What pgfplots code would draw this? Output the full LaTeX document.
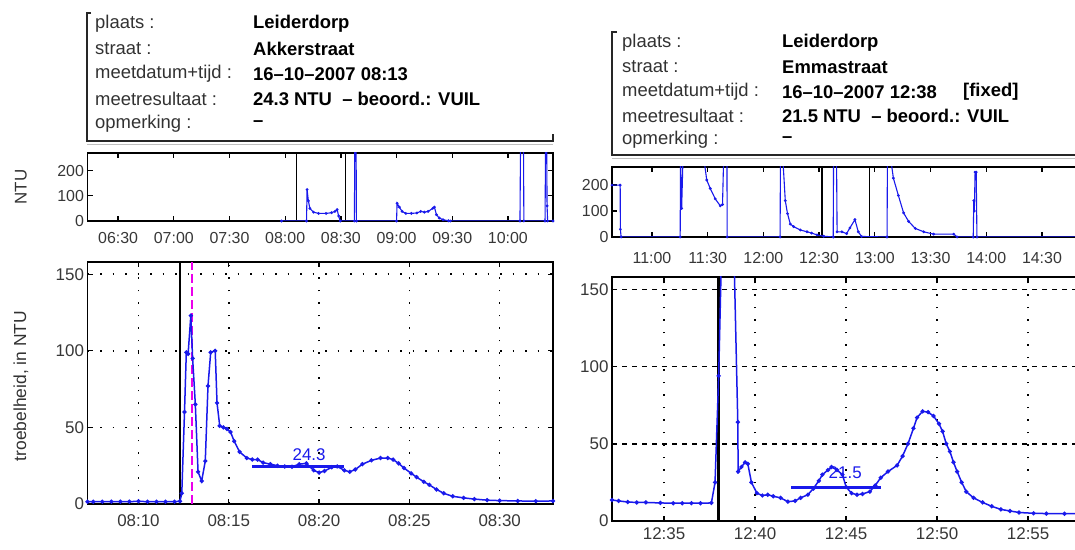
\documentclass[border=0pt]{standalone}
\usepackage{pgfplots}
\pgfplotsset{compat=1.18}
\usepackage{fontspec}
\setmainfont{Liberation Sans}
\definecolor{mblue}{RGB}{25,25,235}
\definecolor{tickgray}{RGB}{55,55,55}
\definecolor{lblgray}{RGB}{50,50,50}
\definecolor{mmag}{RGB}{235,0,235}

\newcommand{\fs}[1]{\fontsize{#1}{#1}\selectfont}

\pgfplotsset{
  matlab/.style={
    scale only axis, anchor=south west,
    axis line style={line width=1.6bp, black},
    tick style={line width=1.3bp, black},
    major tick length=5bp,
    tick label style={text=tickgray},
    clip=true,
  },
  small/.style={
    matlab, ymin=0, ymax=270,
    ytick={0,100,200}, yticklabels={0,100,200},
    xticklabel style={font=\fs{16}},
    yticklabel style={font=\fs{16}},
  },
  big/.style={
    matlab, ymin=0, ymax=158,
    ytick={0,50,100,150}, yticklabels={0,50,100,150},
    xticklabel style={font=\fs{17}},
    yticklabel style={font=\fs{17}},
    xmajorgrids, ymajorgrids,
    x grid style={black, line width=1.5bp, dash pattern=on 1.5bp off 11bp},
  },
  trace/.style={mblue, line width=1.5bp, mark=*, mark size=1.3bp},
  spike/.style={mblue, line width=1.1bp, mark=*, mark size=0.8bp},
}

\begin{document}
\begin{tikzpicture}[x=1bp,y=1bp]
\useasboundingbox (0,0) rectangle (1075,550);

% ---------- info boxes ----------
\draw[line width=1.4bp, black!85] (91,537) -- (87,537) -- (87,409) -- (553,409) -- (553,416);
\draw[line width=1bp, black!25] (87,405) -- (553,405);
\draw[line width=1.4bp, black!85] (617,518) -- (612,518) -- (612,395) -- (1080,395);
\draw[line width=1bp, black!25] (612,391) -- (1080,391);

\begin{scope}[every node/.style={anchor=west, inner sep=0pt, font=\fs{18.5}}]
  \node[text=lblgray] at (95,526) {plaats :};
  \node[text=lblgray] at (95,501) {straat :};
  \node[text=lblgray] at (95,476) {meetdatum+tijd :};
  \node[text=lblgray] at (95,451) {meetresultaat :};
  \node[text=lblgray] at (95,426) {opmerking :};
  \node[font=\fs{18.5}\bfseries] at (253,526) {Leiderdorp};
  \node[font=\fs{18.5}\bfseries] at (253,501) {Akkerstraat};
  \node[font=\fs{18.5}\bfseries] at (253,476) {16–10–2007 08:13};
  \node[font=\fs{18.5}\bfseries] at (253,451) {24.3 NTU \ – beoord.: VUIL};
  \node[font=\fs{18.5}\bfseries] at (253,426) {–};

  \node[text=lblgray] at (622,507) {plaats :};
  \node[text=lblgray] at (622,483) {straat :};
  \node[text=lblgray] at (622,458) {meetdatum+tijd :};
  \node[text=lblgray] at (622,434) {meetresultaat :};
  \node[text=lblgray] at (622,410) {opmerking :};
  \node[font=\fs{18.5}\bfseries] at (782,507) {Leiderdorp};
  \node[font=\fs{18.5}\bfseries] at (782,483) {Emmastraat};
  \node[font=\fs{18.5}\bfseries] at (782,458) {16–10–2007 12:38};
  \node[font=\fs{18.5}\bfseries] at (963,458) {[fixed]};
  \node[font=\fs{18.5}\bfseries] at (782,434) {21.5 NTU \ – beoord.: VUIL};
  \node[font=\fs{18.5}\bfseries] at (782,410) {–};
\end{scope}

% axis titles
\node[rotate=90, font=\fs{17}, text=lblgray] at (21,363) {NTU};
\node[rotate=90, font=\fs{17.5}, text=lblgray] at (21,164) {troebelheid, in NTU};

% ---------- top left overview ----------
\begin{axis}[small, at={(87.5bp,329bp)}, width=465.5bp, height=68bp,
  xmin=373.5, xmax=624.3,
  xtick={390,420,450,480,510,540,570,600},
  xticklabels={06:30,07:00,07:30,08:00,08:30,09:00,09:30,10:00},
  xticklabel style={yshift=-8bp},
]
\addplot[black, line width=1.4bp] coordinates {(486,0) (486,270)};
\addplot[black, line width=1.4bp] coordinates {(512.5,0) (512.5,270)};
\addplot[spike] coordinates {
(478,0) (491.5,0) (491.8,125) (492.5,80) (493.3,50) (495.3,35) (498,30) (502,30)
(505,33) (506.8,38) (508,45) (508.8,20) (509.7,0) (517.3,0) (517.5,300) (518.2,300)
(518.4,0) (540,0) (540.3,70) (541.5,55) (543,38) (545,30) (548,30) (551,32) (553,38)
(555,35) (557,38) (559.5,50) (560.4,55) (561.5,25) (563,12) (565,5) (568,1) (569,0)
(606.5,0) (606.8,300) (608.4,300) (608.6,0) (620,0) (620.3,300) (620.9,300)
(621.1,60) (621.4,0) (624.3,0)};
\end{axis}

% ---------- top right overview ----------
\begin{axis}[small, at={(612bp,313bp)}, width=468bp, height=70bp,
  xmin=638.5, xmax=890.5,
  xtick={660,690,720,750,780,810,840,870},
  xticklabels={11:00,11:30,12:00,12:30,13:00,13:30,14:00,14:30},
  xticklabel style={yshift=-12bp},
]
\addplot[black, line width=2.4bp] coordinates {(751.5,0) (751.5,270)};
\addplot[black, line width=1.4bp] coordinates {(777,0) (777,270)};
\addplot[spike] coordinates {
(638.5,200) (642.9,200) (643,30) (643.4,0) (675.2,0) (675.4,300) (676,110)
(676.7,300) (688,300) (689.5,220) (691.4,187) (694.1,147) (696.8,120) (698,125)
(698.6,300) (700.4,300) (700.5,0) (729,0) (729.2,300) (730.5,300) (731.8,140)
(733,90) (734.5,50) (736.3,40) (739.9,27) (743.5,20) (746,15) (748.9,8) (752.5,3)
(757.6,0) (757.8,300) (759.4,300) (759.7,20) (762.3,20) (764.8,13) (766.6,35)
(769.3,67) (771.1,20) (772.9,2) (786.6,0) (786.8,300) (788.6,300) (790,227)
(792.7,160) (795.5,93) (798.2,60) (801.8,33) (806.3,20) (811.7,11) (822.5,11)
(824.3,0) (833,0) (833.3,140) (833.6,100) (834,250) (834.6,250) (835,0) (890.5,0)};
\end{axis}

% ---------- bottom left detail ----------
\begin{axis}[big, at={(87.5bp,46bp)}, width=465.5bp, height=242bp,
  xmin=7.18, xmax=32.95,
  xtick={10,15,20,25,30},
  xticklabels={08:10,08:15,08:20,08:25,08:30},
  xticklabel style={yshift=-7bp},
  y grid style={black, line width=1.5bp, dash pattern=on 1.5bp off 11bp},
]
\addplot[black, line width=1.5bp] coordinates {(12.3,0) (12.3,158)};
\addplot[mmag, line width=1.8bp, dash pattern=on 9bp off 4bp] coordinates {(12.95,0) (12.95,158)};
\addplot[trace] coordinates {
(7.18,1.5) (7.5,1.5) (8.0,1.5) (8.5,1.5) (9.0,1.5) (9.5,1.5) (10.0,1.8) (10.5,1.5)
(11.0,1.5) (11.5,1.5) (12.0,1.5) (12.3,1.8) (12.4,7) (12.55,60) (12.65,99) (12.75,98)
(12.9,123) (13.0,95) (13.15,65) (13.3,21) (13.5,15) (13.7,28) (13.85,77) (14.0,99)
(14.25,100) (14.35,66) (14.5,51) (14.7,50) (14.9,49) (15.1,47) (15.3,41) (15.6,34)
(16.0,30) (16.3,29) (16.6,29) (16.9,27) (17.3,26) (17.7,25) (18.1,24.5) (18.5,24.3)
(18.9,26) (19.3,26.5) (19.7,22) (20.0,20.5) (20.3,21.5) (20.7,24) (21.0,24.5)
(21.4,22) (21.7,21) (22.0,22.5) (22.4,26) (22.9,28.5) (23.4,30) (23.8,30) (24.1,29)
(24.4,26.5) (24.7,23.5) (25.1,20) (25.4,17.5) (25.8,14.5) (26.1,12.5) (26.5,9.5)
(26.9,7) (27.4,5) (28.0,4) (28.6,3.2) (29.3,2.5) (30.0,2.2) (31.0,2) (32.0,1.8) (32.95,2)};
\addplot[mblue, line width=3.2bp] coordinates {(16.3,24.3) (21.4,24.3)};
\node[text=mblue, font=\fs{17}] at (axis cs:19.45,32.5) {24.3};
\end{axis}

% ---------- bottom right detail ----------
\begin{axis}[big, at={(612bp,29bp)}, width=468bp, height=244bp,
  xmin=32.14, xmax=57.85,
  xtick={35,40,45,50,55},
  xticklabels={12:35,12:40,12:45,12:50,12:55},
  xticklabel style={yshift=-3bp},
  y grid style={black, line width=1.5bp, dash pattern=on 5bp off 5bp},
]
\addplot[black, line width=2.8bp] coordinates {(38.0,0) (38.0,158)};
\addplot[trace] coordinates {
(32.14,13.6) (32.5,13) (33.0,12.3) (33.5,12) (34.0,12) (34.8,11.7) (35.5,11.5)
(36.0,11.5) (36.5,11.5) (37.0,11.5) (37.6,11.7) (37.8,25) (38.0,94) (38.5,350)
(39.05,64) (39.07,32) (39.25,35) (39.45,38) (39.6,37) (39.8,25) (40.1,18) (40.4,16.5)
(40.7,17) (41.0,16) (41.4,15) (41.8,12.5) (42.2,13) (42.5,15) (42.9,17) (43.2,21)
(43.5,26) (43.7,30) (44.0,33) (44.2,35) (44.5,33) (44.8,30) (45.0,22) (45.3,18)
(45.6,17) (45.9,17.5) (46.3,19) (46.6,23) (46.9,28) (47.3,32) (47.8,36) (48.1,42)
(48.4,50) (48.7,60) (48.9,67) (49.2,71) (49.5,70.5) (49.8,68) (50.1,63) (50.3,58)
(50.5,50) (50.7,45) (50.9,38) (51.1,32) (51.35,25) (51.6,19) (52.0,15) (52.5,12)
(53.0,9.5) (53.5,7.5) (54.0,6.5) (54.5,5.5) (55.3,5) (56.0,4.8) (57.0,4.7) (57.85,4.7)};
\addplot[mblue, line width=3.2bp] coordinates {(42.0,21.5) (46.9,21.5)};
\node[text=mblue, font=\fs{17}] at (axis cs:44.95,31) {21.5};
\end{axis}
\end{tikzpicture}
\end{document}
